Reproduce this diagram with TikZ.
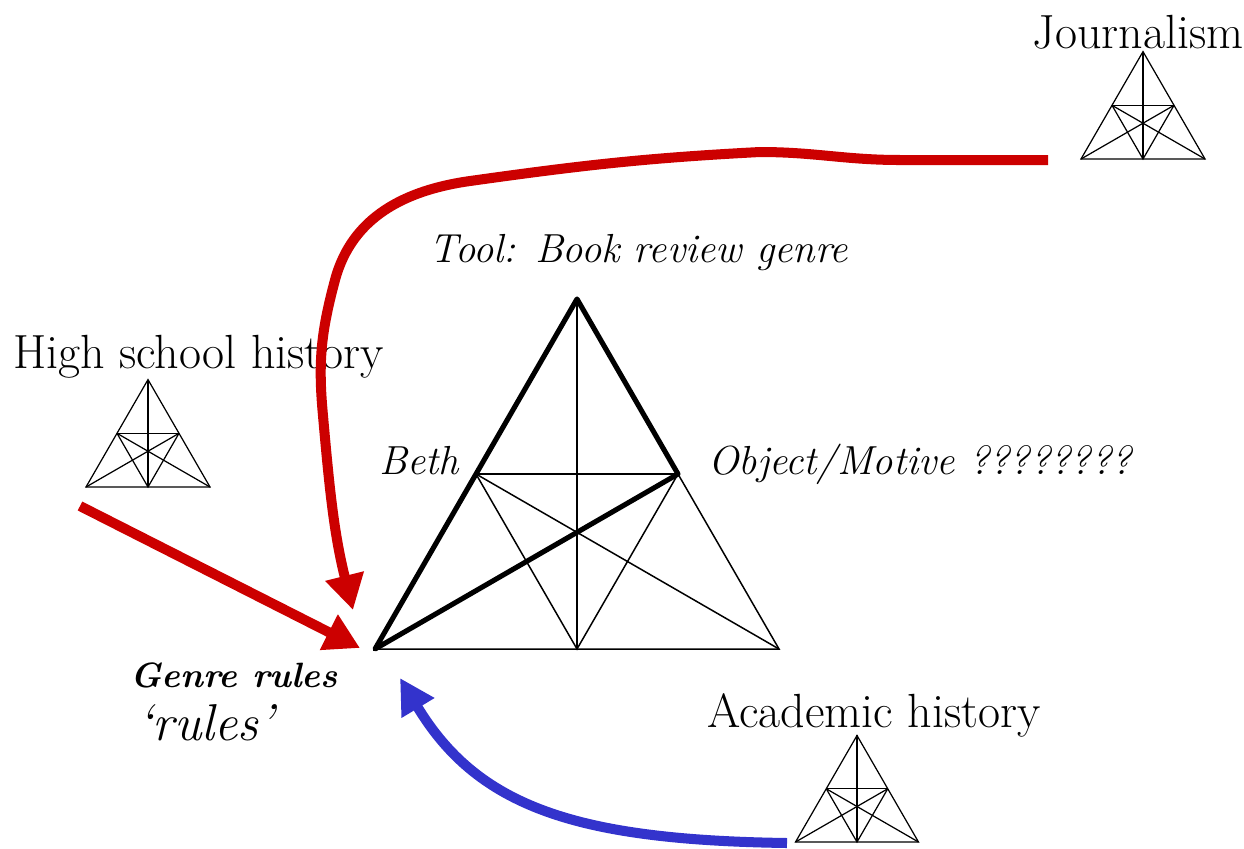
\documentclass[tikz,border=0pt]{standalone}
\usepackage{fontspec}
\usepackage{tikz}
\usetikzlibrary{arrows.meta, positioning}
\usepackage{xcolor}
\definecolor{flowRed}{RGB}{204,0,0}
\definecolor{flowBlue}{RGB}{51,51,204}

% small activity triangle: #1 = centre of base, #2 = side
\newcommand{\minitri}[2]{%
  \begin{scope}[shift={#1}, scale=#2, line width=0.7pt]
    \draw (-0.5,0) -- (0.5,0) -- (0,0.866) -- cycle;
    \draw (-0.25,0.433) -- (0.25,0.433);
    \draw (0,0.866) -- (0,0);
    \draw (-0.25,0.433) -- (0,0) -- (0.25,0.433);
    \draw (-0.25,0.433) -- (0.5,0);
    \draw (0.25,0.433) -- (-0.5,0);
  \end{scope}}

\begin{document}
\begin{tikzpicture}[
    sysLabel/.style={inner sep=0pt, font=\fontsize{27.3}{31}\selectfont},
    corner/.style={inner sep=0pt, font=\fontsize{23.1}{27}\selectfont\itshape},
    thinLine/.style={line width=0.85pt},
    thickLine/.style={line width=2.9pt, line join=round},
    redArrow/.style={-{Triangle[length=0.7cm, width=0.75cm]}, line width=5.7pt, flowRed},
    blueArrow/.style={-{Triangle[length=0.7cm, width=0.72cm]}, line width=5.7pt, flowBlue}
]
    \useasboundingbox (0,0) rectangle (24.88,-16.96);

    % Main activity triangle
    \coordinate (tool) at (11.54,-5.98);
    \coordinate (rules) at (7.50,-12.98);
    \coordinate (labour) at (15.58,-12.98);
    \coordinate (community) at (11.54,-12.98);
    \coordinate (subject) at (9.52,-9.48);
    \coordinate (object) at (13.56,-9.48);

    \draw[thinLine] (rules) -- (labour) -- (object);
    \draw[thinLine] (subject) -- (object);
    \draw[thinLine] (tool) -- (community);
    \draw[thinLine] (subject) -- (community) -- (object);
    \draw[thinLine] (subject) -- (labour);
    \draw[thickLine] (rules) -- (tool) -- (object) -- cycle;

    % Neighbouring activity systems
    \minitri{(22.86,-3.18)}{2.48}
    \minitri{(2.96,-9.74)}{2.48}
    \minitri{(17.14,-16.84)}{2.46}

    % Labels
    \node[sysLabel, anchor=base] (journalism) at (22.76,-0.96) {Journalism};
    \node[sysLabel, anchor=base] (highschool) at (3.97,-7.36) {High school history};
    \node[sysLabel, anchor=base] (academic) at (17.48,-14.54) {Academic history};
    \node[corner, anchor=base] (toolLbl) at (12.78,-5.24) {Tool: Book review genre};
    \node[corner, anchor=base] (beth) at (8.38,-9.48) {Beth};
    \node[corner, anchor=base west] (motive) at (14.16,-9.48) {Object/Motive ????????};
    \node[corner, anchor=base, font=\fontsize{20}{24}\selectfont\bfseries\itshape] (genre) at (4.68,-13.74) {Genre rules};
    \node[inner sep=0pt, anchor=base west, font=\fontsize{29.5}{34}\selectfont\itshape] (quoted) at (2.74,-14.8) {‘rules’};

    % Arrow ends
    \coordinate (jourEnd) at (20.96,-3.2);
    \coordinate (jourTip) at (7.06,-12.2);
    \coordinate (hsEnd) at (1.6,-10.12);
    \coordinate (hsTip) at (7.2,-12.96);
    \coordinate (acEnd) at (15.74,-16.86);
    \coordinate (acTip) at (8.0,-13.56);

    % Influences on the genre rules
    \draw[redArrow] (jourEnd) -- (18.0,-3.2) to[out=180,in=0] (15.2,-3.04)
        to[out=183,in=8] (9.4,-3.62) to[out=188,in=75] (6.7,-5.6)
        to[out=-105,in=95] (6.45,-8.2) to[out=-85,in=104] (jourTip);
    \draw[redArrow] (hsEnd) -- (hsTip);
    \draw[blueArrow] (acEnd) .. controls (11.5,-16.8) and (9.55,-16.13) .. (acTip);
\end{tikzpicture}
\end{document}
